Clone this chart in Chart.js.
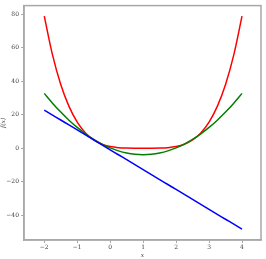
<!DOCTYPE html>
<html>
<head>
<meta charset="utf-8">
<script src="https://cdn.jsdelivr.net/npm/chart.js@4/dist/chart.umd.min.js"></script>
<style>
  html, body { margin: 0; padding: 0; background: #fff; }
  #wrap { width: 266px; height: 259px; position: relative; }
</style>
</head>
<body>
<div id="wrap"><canvas id="c"></canvas></div>
<script>
const xs = [-2, -1.75, -1.5, -1.25, -1, -0.75, -0.5, -0.25, 0, 0.25, 0.5, 0.75, 1,
  1.25, 1.5, 1.75, 2, 2.25, 2.5, 2.75, 3, 3.25, 3.5, 3.75, 4]
const fValues = [79.0, 55.8, 38.1, 25.0, 15.6, 9.14, 4.94, 2.38, 0.98, 0.31, 0.06, 0.0, 0.0,
  0.0, 0.06, 0.31, 0.98, 2.38, 4.94, 9.14, 15.6, 25.0, 38.1, 55.8, 79.0]
const quadValues = [32.8, 26.96, 21.6, 16.76, 12.42, 8.6, 5.28, 2.48, 0.18, -1.6, -2.88, -3.65, -3.9,
  -3.65, -2.88, -1.6, 0.18, 2.48, 5.28, 8.6, 12.42, 16.76, 21.6, 26.96, 32.8]
const lineValues = [22.8, 19.83, 16.87, 13.9, 10.93, 7.96, 5.0, 2.03, -0.94, -3.91, -6.87, -9.84, -12.81,
  -15.78, -18.74, -21.71, -24.68, -27.65, -30.62, -33.58, -36.55, -39.52, -42.49, -45.45, -48.42]
const xTicks = [-2, -1, 0, 1, 2, 3, 4]
const yTicks = [-40, -20, 0, 20, 40, 60, 80]

const spineColor = "#a8a8a8"
const textColor = "#444"
const tickFont = { family: "DejaVu Serif", size: 6 }

const toPoints = (vals) => xs.map((x, i) => ({ x, y: vals[i] }))
const fmt = (v) => (v < 0 ? "\u2212" + Math.abs(v) : String(v))

// top and right spines
const frame = {
  id: "frame",
  afterDatasetsDraw(chart) {
    const { ctx, chartArea: a } = chart
    ctx.save()
    ctx.strokeStyle = spineColor
    ctx.lineWidth = 1.5
    ctx.strokeRect(a.left, a.top, a.right - a.left, a.bottom - a.top)
    ctx.restore()
  },
}

new Chart(document.getElementById("c").getContext("2d"), {
  type: "line",
  data: {
    datasets: [
      { data: toPoints(fValues), borderColor: "#ff0000", order: 3 },
      { data: toPoints(quadValues), borderColor: "#008000", order: 2 },
      { data: toPoints(lineValues), borderColor: "#0000ff", order: 1 },
    ],
  },
  options: {
    animation: false,
    responsive: true,
    maintainAspectRatio: false,
    layout: { padding: { top: 4, right: 5, left: 0, bottom: 0 } },
    elements: {
      point: { radius: 0 },
      line: { borderWidth: 1.5, tension: 0.3, fill: false },
    },
    plugins: { legend: { display: false }, tooltip: { enabled: false } },
    scales: {
      x: {
        type: "linear",
        min: -2.615,
        max: 4.576,
        afterBuildTicks: (s) => { s.ticks = xTicks.map((v) => ({ value: v })) },
        afterFit: (s) => { s.height = 19 },
        grid: { drawOnChartArea: false, tickLength: 3, color: spineColor, lineWidth: 1 },
        border: { color: spineColor, width: 1.5 },
        ticks: { color: textColor, font: tickFont, padding: 1, maxRotation: 0, callback: fmt },
        title: {
          display: true, text: "x", color: textColor, padding: 0,
          font: { family: "DejaVu Serif", size: 6, style: "italic" },
        },
      },
      y: {
        min: -54.9,
        max: 85.3,
        afterBuildTicks: (s) => { s.ticks = yTicks.map((v) => ({ value: v })) },
        afterFit: (s) => { s.width = 24 },
        grid: { drawOnChartArea: false, tickLength: 3, color: spineColor, lineWidth: 1 },
        border: { color: spineColor, width: 1.5 },
        ticks: { color: textColor, font: tickFont, padding: 2, callback: fmt },
        title: {
          display: true, text: "f(x)", color: textColor, padding: 0,
          font: { family: "DejaVu Serif", size: 6, style: "italic" },
        },
      },
    },
  },
  plugins: [frame],
})
</script>
</body>
</html>
